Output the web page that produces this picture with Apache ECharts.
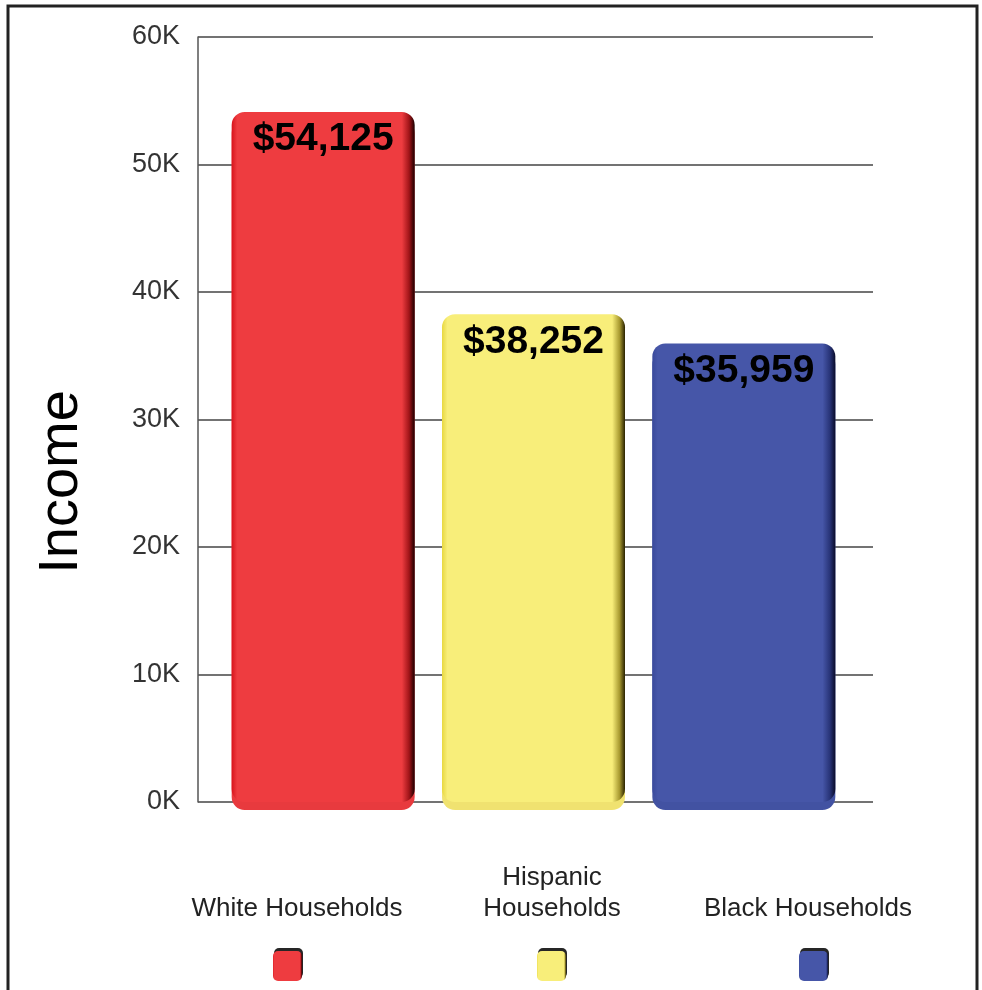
<!DOCTYPE html>
<html>
<head>
<meta charset="utf-8">
<script src="https://cdn.jsdelivr.net/npm/echarts@6/dist/echarts.min.js"></script>
<style>
html,body{margin:0;padding:0;background:#fff;}
#chart{width:982px;height:990px;}
</style>
</head>
<body>
<div id="chart"></div>
<script>
// ---- data ----
const categories = ['White Households', 'Hispanic\nHouseholds', 'Black Households'];
const incomeValues = [54125, 38252, 35959];
const valueLabels = ['$54,125', '$38,252', '$35,959'];
const yTicks = [0, 10000, 20000, 30000, 40000, 50000, 60000];
const yAxisTitle = 'Income';

// ---- styling ----
const barPalette = [
  {edge: '#d8141c', main: '#ee3c40', mid: '#a01418', dark: '#1a0000', under: '#e83a3e'},
  {edge: '#e8d840', main: '#f8ee7a', mid: '#a89a30', dark: '#2a2200', under: '#f0e270'},
  {edge: '#3a4a9c', main: '#4656a8', mid: '#283478', dark: '#0a0c2a', under: '#4252a2'}
];

function grad(p) {
  return new echarts.graphic.LinearGradient(0, 0, 1, 0, [
    {offset: 0, color: p.edge},
    {offset: 0.03, color: p.main},
    {offset: 0.93, color: p.main},
    {offset: 0.97, color: p.mid},
    {offset: 1, color: p.dark}
  ]);
}

const chart = echarts.init(document.getElementById('chart'), null, {renderer: 'canvas'});

const legendCenters = [287, 551, 813];
const labelCenters = [297, 552, 808];

const graphics = [
  {type: 'rect', shape: {x: 8, y: 6, width: 969, height: 1010}, style: {fill: 'none', stroke: '#222', lineWidth: 3}, z: 100},
  {type: 'text', x: 62, y: 482, rotation: Math.PI / 2, style: {text: yAxisTitle, font: '56px "Liberation Sans", Arial, sans-serif', fill: '#000', textAlign: 'center', textVerticalAlign: 'middle'}}
];
categories.forEach((c, i) => {
  graphics.push({type: 'text', x: labelCenters[i], y: 924, style: {text: c, font: '26px "Liberation Sans", Arial, sans-serif', fill: '#222', textAlign: 'center', textVerticalAlign: 'bottom', lineHeight: 31}});
  graphics.push({type: 'rect', shape: {x: legendCenters[i] - 14, y: 951, width: 29, height: 30, r: 5},
    style: {fill: grad(barPalette[i]), shadowColor: 'rgba(0,0,0,0.85)', shadowOffsetX: 1, shadowOffsetY: -3, shadowBlur: 0}});
});

const option = {
  animation: false,
  backgroundColor: '#fff',
  grid: [
    {left: 198, right: 109, top: 37, bottom: 188},
    {left: 218, right: 133, top: 37, bottom: 188}
  ],
  xAxis: [
    {type: 'category', gridIndex: 0, data: categories, show: false},
    {type: 'category', gridIndex: 1, data: categories, show: false}
  ],
  yAxis: [
    {
      type: 'value', gridIndex: 0, min: yTicks[0], max: yTicks[yTicks.length - 1], interval: 10000,
      axisLine: {show: true, lineStyle: {color: '#555', width: 1.5}},
      axisTick: {show: false},
      splitLine: {show: true, lineStyle: {color: '#444', width: 1.5}},
      axisLabel: {margin: 18, color: '#333', fontSize: 27, fontFamily: '"Liberation Sans", Arial, sans-serif',
        formatter: v => (v / 1000) + 'K'}
    },
    {type: 'value', gridIndex: 1, min: yTicks[0], max: yTicks[yTicks.length - 1], interval: 10000, show: false, splitLine: {show: false}}
  ],
  graphic: graphics,
  series: [{
    type: 'bar',
    xAxisIndex: 1, yAxisIndex: 1,
    barWidth: 183,
    z: 5,
    data: incomeValues.map((v, i) => ({
      value: v,
      itemStyle: {
        color: grad(barPalette[i]),
        borderRadius: 13,
        shadowColor: barPalette[i].under,
        shadowOffsetY: 8,
        shadowBlur: 0
      },
      label: {formatter: valueLabels[i]}
    })),
    label: {
      show: true, position: 'insideTop', distance: 8,
      color: '#000', fontSize: 39, fontWeight: 'bold', fontFamily: '"Liberation Sans", Arial, sans-serif'
    }
  }]
};
chart.setOption(option);
</script>
</body>
</html>
